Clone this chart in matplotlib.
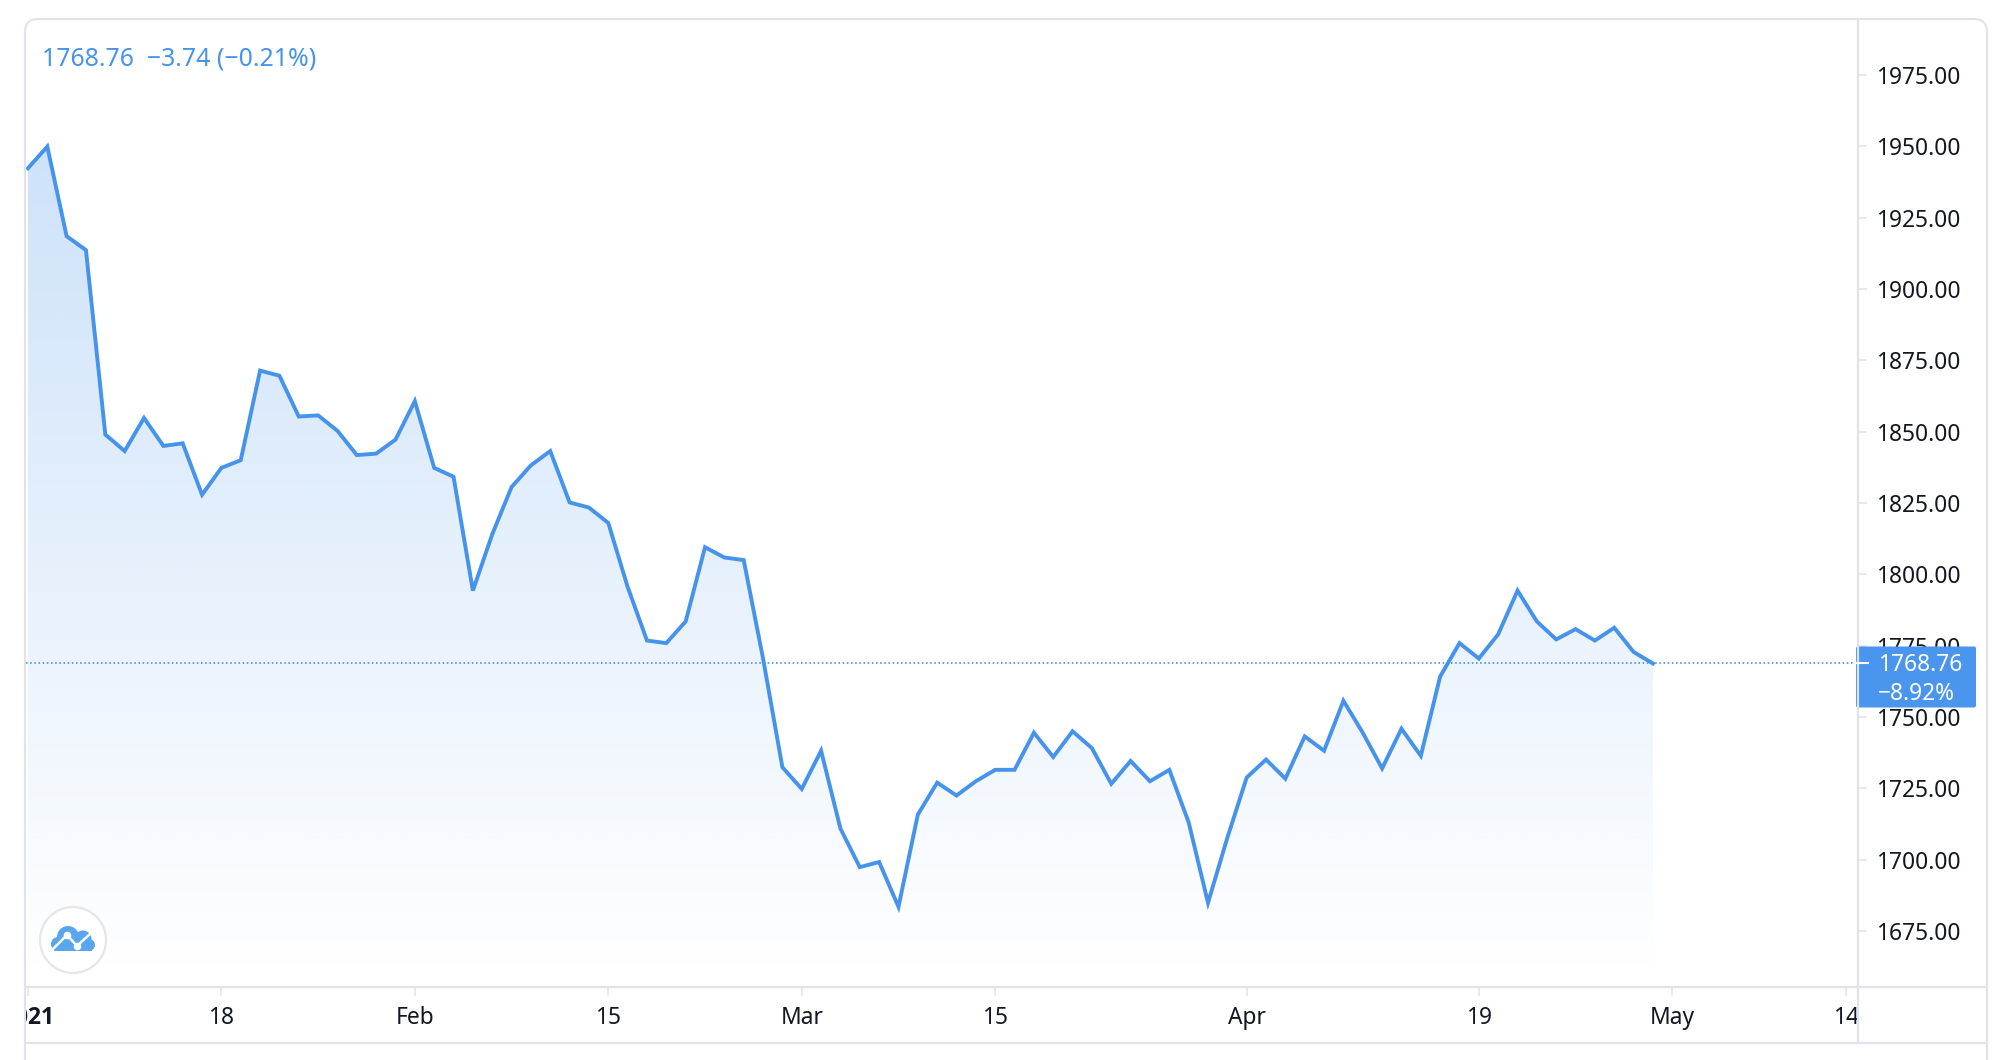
import numpy as np
import matplotlib
matplotlib.use("Agg")
import matplotlib.pyplot as plt
from matplotlib.patches import Circle, FancyBboxPatch, Rectangle
from matplotlib.transforms import Bbox
from matplotlib.colors import to_rgb

bar_index = list(range(85))
prices = [1942.3, 1949.9, 1918.5, 1913.6, 1849.0, 1843.2, 1854.8, 1845.0, 1845.9, 1827.9,
          1837.3, 1840.0, 1871.4, 1869.6, 1855.3, 1855.7, 1850.3, 1841.8, 1842.3, 1847.2,
          1860.7, 1837.3, 1834.2, 1794.3, 1814.0, 1830.6, 1838.2, 1843.2, 1825.2, 1823.4,
          1818.0, 1795.6, 1776.8, 1775.9, 1783.5, 1809.5, 1805.9, 1805.0, 1770.5, 1732.4,
          1724.8, 1738.2, 1710.9, 1697.4, 1699.2, 1683.5, 1715.8, 1727.0, 1722.5, 1727.5,
          1731.5, 1731.5, 1744.5, 1736.0, 1745.0, 1739.1, 1726.6, 1734.6, 1727.5, 1731.5,
          1713.1, 1684.9, 1707.7, 1728.8, 1735.1, 1728.4, 1743.2, 1738.2, 1755.7, 1744.5,
          1732.0, 1745.9, 1736.4, 1764.2, 1775.9, 1770.5, 1779.0, 1794.3, 1783.5, 1777.2,
          1780.8, 1776.8, 1781.3, 1772.8, 1768.76]
x_tick_pos = [0, 10, 20, 30, 40, 50, 63, 75, 85, 94]
x_tick_labels = ["2021", "18", "Feb", "15", "Mar", "15", "Apr", "19", "May", "14"]
y_ticks = [1675, 1700, 1725, 1750, 1775, 1800, 1825, 1850, 1875, 1900, 1925, 1950, 1975]
last_price = 1768.76
header = "1768.76  \u22123.74 (\u22120.21%)"
box_lines = ["1768.76", "\u22128.92%"]

BLUE = "#4693EC"
GRID = "#E0E3EB"
INK = "#131722"
FONT = "Noto Sans"
W, H = 2006, 1060
L, R, T, B = 26, 1858, 19, 987
YMIN, YMAX = 1655.4, 1994.6

plt.rcParams["font.family"] = [FONT, "DejaVu Sans"]
fig = plt.figure(figsize=(W / 100, H / 100), dpi=100, facecolor="white")
ax = fig.add_axes([L / W, 1 - B / H, (R - L) / W, (B - T) / H], zorder=1)
ax.set_xlim(-0.1, 94.6)
ax.set_ylim(YMIN, YMAX)
for s in ax.spines.values():
    s.set_visible(False)

# gradient area under the line
poly = ax.fill_between(bar_index, prices, YMIN, facecolor="none", edgecolor="none")
rgb = to_rgb(BLUE)
alpha = np.linspace(0.27, 0.0, 256)[:, None]
grad = np.dstack([np.full_like(alpha, c) for c in rgb] + [alpha])
im = ax.imshow(grad, extent=[-0.1, 84, 1658, max(prices)], origin="upper",
               aspect="auto", interpolation="bilinear", zorder=1)
im.set_clip_path(poly.get_paths()[0], transform=ax.transData)
ax.set_xlim(-0.1, 94.6)
ax.set_ylim(YMIN, YMAX)

ax.axhline(last_price, color=BLUE, lw=1.25, dashes=(0.9, 1.5), zorder=2)
ax.plot(bar_index, prices, color=BLUE, lw=2.8, solid_joinstyle="miter", zorder=3)

ax.yaxis.tick_right()
ax.set_yticks(y_ticks)
ax.set_yticklabels([f"{v:.2f}" for v in y_ticks], fontsize=16.4, color=INK, ha="left")
ax.tick_params(axis="y", length=6.5, width=1.1, color=GRID, pad=6.2)
ax.set_xticks(x_tick_pos)
ax.set_xticklabels(x_tick_labels, fontsize=16.4, color=INK)
ax.tick_params(axis="x", length=6.5, width=1.1, color=GRID, pad=7)
clip = Bbox([[L, 0], [R, H]])
for lab in ax.get_xticklabels():
    lab.set_clip_box(clip)
    lab.set_clip_on(True)
first = ax.get_xticklabels()[0]
first.set_fontfamily(["Open Sans", "DejaVu Sans"])
first.set_fontweight("bold")

# chart frame, price tag and logo, in pixel coordinates
ov = fig.add_axes([0, 0, 1, 1], zorder=2)
ov.set_xlim(0, W)
ov.set_ylim(H, 0)
ov.axis("off")
ov.patch.set_alpha(0)

ov.add_patch(FancyBboxPatch((25, 19), 1962, 1100, boxstyle="round,pad=0,rounding_size=13",
                            fc="none", ec=GRID, lw=1.5, clip_on=True))
ov.plot([25, 1987], [987, 987], color=GRID, lw=1.6)
ov.plot([25, 1987], [1043, 1043], color=GRID, lw=1.6)
ov.plot([1858, 1858], [19, 1043], color=GRID, lw=1.6)

ov.text(42, 59.5, header, color=BLUE, fontsize=17.9, va="center", ha="left")

ov.add_patch(FancyBboxPatch((1856, 646.5), 120, 61, boxstyle="round,pad=0,rounding_size=2",
                            fc="#4A95EE", ec="none"))
ov.plot([1856, 1868], [663, 663], color="white", lw=1.5)
ov.text(1878, 665, box_lines[0], color="white", fontsize=16.4, va="center", ha="left")
ov.text(1878, 694, box_lines[1], color="white", fontsize=16.4, va="center", ha="left")

ov.add_patch(Circle((73, 940), 33, fc="white", ec="#E6E6E6", lw=1.6))
CLOUD = "#5AA6EE"
ov.add_patch(Circle((68, 937), 11, fc=CLOUD, ec="none"))
ov.add_patch(Circle((83, 939), 8.5, fc=CLOUD, ec="none"))
ov.add_patch(Circle((58, 944), 7, fc=CLOUD, ec="none"))
ov.add_patch(Circle((89, 945), 6, fc=CLOUD, ec="none"))
ov.add_patch(Rectangle((54, 941), 38, 10, fc=CLOUD, ec="none"))
ov.plot([52, 67, 77, 91], [950, 935, 946, 933], color="white", lw=1.8)
ov.plot([67, 77], [935, 946], "o", color="white", ms=4.5)

fig.savefig("out.png", dpi=100, facecolor="white")
